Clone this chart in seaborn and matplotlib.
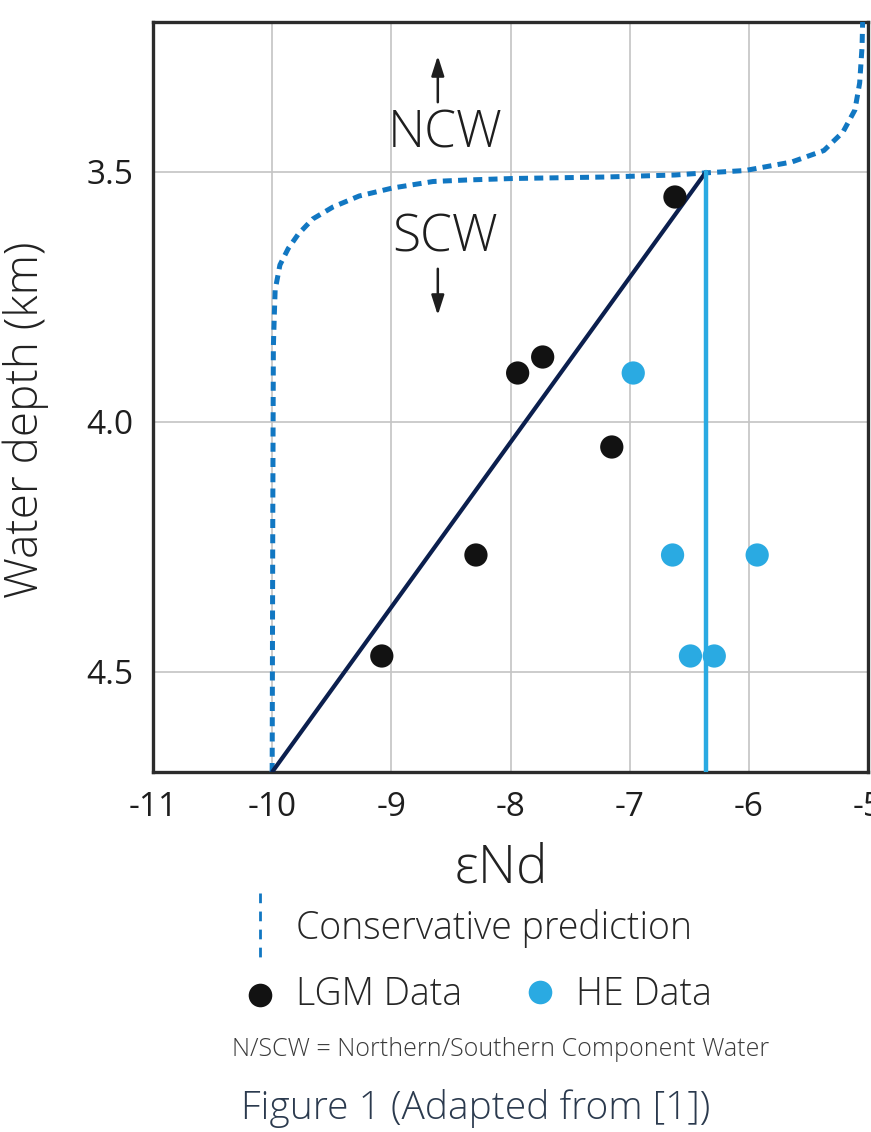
import numpy as np
import pandas as pd
import matplotlib
matplotlib.use("Agg")
import matplotlib.pyplot as plt
from matplotlib.lines import Line2D
import seaborn as sns

# ---- data ----
lgm_end = [-9.08, -8.29, -7.94, -7.73, -7.15, -6.62]
lgm_depth = [4.468, 4.266, 3.902, 3.870, 4.050, 3.550]

he_end = [-6.97, -6.64, -5.93, -6.49, -6.29]
he_depth = [3.902, 4.266, 4.266, 4.468, 4.468]

pred_end = [-10.0, -9.995, -9.99, -9.982, -9.975, -9.935, -9.865, -9.78, -9.66,
            -9.49, -9.27, -8.99, -8.65, -8.37, -7.98, -7.20, -6.62, -6.38,
            -6.03, -5.64, -5.37, -5.21, -5.11, -5.07, -5.05, -5.045]
pred_depth = [4.70, 4.20, 3.85, 3.786, 3.736, 3.686, 3.653, 3.624, 3.594,
              3.570, 3.548, 3.532, 3.519, 3.516, 3.513, 3.510, 3.506, 3.502,
              3.497, 3.480, 3.457, 3.420, 3.376, 3.322, 3.250, 3.200]

fit_end = [-10.0, -6.36]
fit_depth = [4.70, 3.50]

he_mean_end = [-6.36, -6.36]
he_mean_depth = [3.50, 4.70]

xticks = [-11, -10, -9, -8, -7, -6, -5]
yticks = [3.5, 4.0, 4.5]
ytick_labels = ["3.5", "4.0", "4.5"]

# ---- style ----
sns.set_theme(style="white")
plt.rcParams["font.family"] = ["Open Sans", "DejaVu Sans"]

C_PRED = "#1177c2"
C_FIT = "#0b1f4e"
C_HE = "#2aaae2"
C_LGM = "#121212"

fig = plt.figure(figsize=(8.71, 11.32), dpi=100)
ax = fig.add_axes([153 / 871, 1 - 772 / 1132, 715 / 871, 750 / 1132])

pred_df = pd.DataFrame({"x": pred_end, "y": pred_depth})
sns.lineplot(data=pred_df, x="x", y="y", sort=False, estimator=None, ax=ax,
             color=C_PRED, lw=3.6, zorder=3)
ax.lines[-1].set_dashes([1.8, 1.25])
ax.lines[-1].set_dash_capstyle("butt")

sns.lineplot(x=fit_end, y=fit_depth, sort=False, estimator=None, ax=ax,
             color=C_FIT, lw=3.0, zorder=4)
sns.lineplot(x=he_mean_end, y=he_mean_depth, sort=False, estimator=None, ax=ax,
             color=C_HE, lw=3.2, zorder=4)

sns.scatterplot(x=lgm_end, y=lgm_depth, ax=ax, color=C_LGM, s=280,
                edgecolor="none", zorder=5)
sns.scatterplot(x=he_end, y=he_depth, ax=ax, color=C_HE, s=280,
                edgecolor="none", zorder=5)

ax.set_xlim(-11, -5)
ax.set_ylim(4.7, 3.2)
ax.set_xticks(xticks)
ax.set_xticklabels([str(t) for t in xticks])
ax.set_yticks(yticks)
ax.set_yticklabels(ytick_labels)
ax.grid(True, color="#c4c4c4", lw=1.2)
ax.set_axisbelow(True)
for s in ax.spines.values():
    s.set_color("#2b2b2b")
    s.set_linewidth(2.4)
ax.tick_params(axis="both", length=0, labelsize=24, colors="#1e1e1e", pad=14)
for lab in ax.get_xticklabels() + ax.get_yticklabels():
    lab.set_clip_on(False)

ax.set_ylabel("Water depth (km)", fontsize=33, fontweight="light", color="#222222")
ax.yaxis.set_label_coords(-0.146, 0.47)
ax.set_xlabel("εNd", fontsize=38, fontweight="light", color="#222222")
ax.xaxis.set_label_coords(0.487, -0.093)

# NCW / SCW annotations
ax.text(-8.55, 3.424, "NCW", fontsize=37, fontweight="light", color="#1e1e1e",
        ha="center", va="center")
ax.text(-8.55, 3.632, "SCW", fontsize=37, fontweight="light", color="#1e1e1e",
        ha="center", va="center")
ax.annotate("", xy=(-8.61, 3.262), xytext=(-8.61, 3.366),
            arrowprops=dict(arrowstyle="-|>,head_length=1.0,head_width=0.32",
                            color="#1e1e1e", lw=1.8))
ax.annotate("", xy=(-8.61, 3.792), xytext=(-8.61, 3.688),
            arrowprops=dict(arrowstyle="-|>,head_length=1.0,head_width=0.32",
                            color="#1e1e1e", lw=1.8))

# ---- custom legend (figure pixel coords) ----
W, H = 871, 1132
def fx(px):
    return px / W
def fy(py):
    return 1 - py / H

lg = Line2D([fx(260), fx(260)], [fy(893), fy(957)], transform=fig.transFigure,
            color=C_PRED, lw=2.0, dashes=[3.5, 3.0])
fig.add_artist(lg)
fig.text(fx(296), fy(928), "Conservative prediction", fontsize=27,
         fontweight="light", color="#262626", va="center", ha="left")

fig.add_artist(Line2D([fx(260)], [fy(995)], transform=fig.transFigure,
                      marker="o", ms=17, color=C_LGM, lw=0, mew=0))
fig.text(fx(296), fy(995), "LGM Data", fontsize=27, fontweight="light",
         color="#262626", va="center", ha="left")
fig.add_artist(Line2D([fx(540)], [fy(992)], transform=fig.transFigure,
                      marker="o", ms=17, color=C_HE, lw=0, mew=0))
fig.text(fx(576), fy(995), "HE Data", fontsize=27, fontweight="light",
         color="#262626", va="center", ha="left")

fig.text(fx(501), fy(1050), "N/SCW = Northern/Southern Component Water",
         fontsize=18, fontweight="light", color="#3a3a3a", va="center", ha="center")
fig.text(fx(476), fy(1108), "Figure 1 (Adapted from [1])", fontsize=28,
         fontweight="light", color="#2b3a4e", va="center", ha="center")

fig.savefig("out.png", dpi=100)
